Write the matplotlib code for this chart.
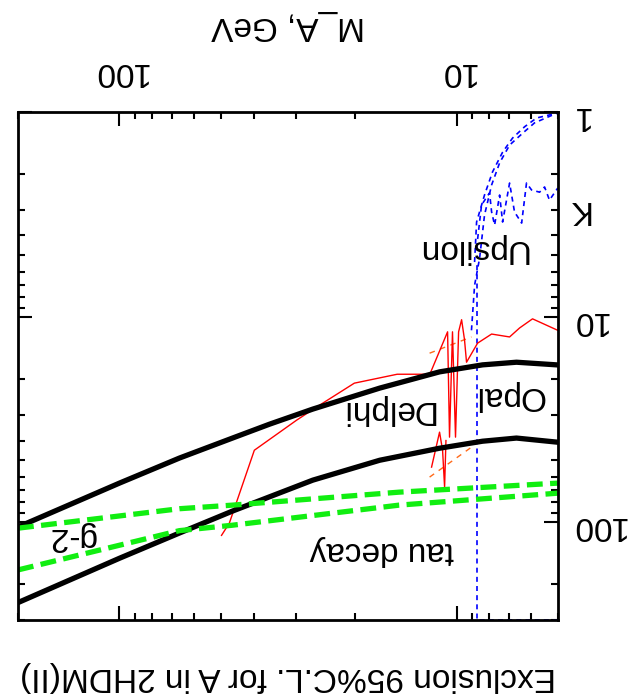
import matplotlib
matplotlib.use("Agg")
import matplotlib.pyplot as plt
from matplotlib.ticker import NullFormatter

plt.rcParams['font.family'] = ['Liberation Sans', 'DejaVu Sans']

# picture is drawn upside down (both axes inverted, all text turned 180 deg)

# black limit curves (M_A in GeV, tan beta)
black_up_m = [201, 100, 66.4, 46.2, 35.9, 26.7, 16.9, 11.23, 8.37, 6.64, 5.05]
black_up_t = [106, 64.5, 48.7, 38.9, 33.3, 28.1, 22.2, 18.5, 17.1, 16.6, 17.1]
black_lo_m = [198, 100, 66.4, 46.2, 26.7, 16.9, 11.23, 8.37, 6.64, 5.05]
black_lo_t = [245, 150, 113, 88.3, 62.4, 49.9, 43.6, 40.3, 38.9, 40.7]

# g-2 band (green dashed)
g2_up_m = [200, 66.4, 46.2, 14.8, 5.0]
g2_up_t = [107, 86, 82.6, 71.4, 64.5]
g2_lo_m = [200, 66.4, 46.2, 14.8, 5.0]
g2_lo_t = [171, 110, 103.5, 82.6, 72.2]

# Delphi / Opal red curve
red_m = [49.8, 47.2, 39.8, 29.8, 25.5, 20.1, 15.0, 12.9, 12.0, 10.63, 10.49, 10.28, 10.07,
         9.86, 9.66, 9.47, 9.34, 8.66, 7.87, 6.96, 6.50, 5.95, 5.01]
red_t = [116, 101, 44.6, 31.8, 26.9, 21.0, 19.0, 19.0, 19.0, 11.8, 38.5, 11.8, 38.5,
         11.8, 10.3, 12.9, 16.6, 13.4, 12.1, 12.5, 11.3, 10.2, 11.6]
red2_m = [11.86, 11.23, 11.0, 10.85, 10.75]
red2_t = [53.9, 36.4, 44.6, 67.5, 40]

# orange dashed bits
or_up_m = [12.02, 9.03]
or_up_t = [15.0, 12.5]
or_lo_m = [12.02, 9.03]
or_lo_t = [60.3, 43.1]

# Upsilon (blue dashed)
ups_v_m = [5.01, 8.72, 8.72]
ups_v_t = [300, 300, 5.4]
ups_a_m = [8.84, 8.72, 8.26, 7.82, 7.30, 6.82, 6.28, 5.79, 5.01]
ups_a_t = [5.39, 3.44, 2.54, 1.96, 1.57, 1.34, 1.18, 1.07, 1.01]
ups_b_m = [9.03, 8.84, 8.54, 8.26, 7.87, 7.45, 6.96, 6.37, 5.87, 5.37, 5.01]
ups_b_t = [11.6, 7.0, 5.15, 3.18, 2.27, 1.77, 1.45, 1.27, 1.13, 1.06, 1.01]
ups_c_m = [8.72, 8.43, 7.98, 7.87, 7.71, 7.45, 7.30, 6.96, 6.73, 6.41, 6.20, 5.99, 5.67, 5.48, 5.30, 5.01]
ups_c_t = [4.61, 2.84, 2.48, 3.07, 3.56, 2.54, 3.44, 2.22, 3.07, 3.48, 2.22, 2.40, 2.46, 2.32, 2.69, 2.35]

x_ticks = [10, 100]
x_labels = ['10', '100']
y_ticks = [1, 10, 100]
y_labels = ['1', '10', '100']

fig = plt.figure(figsize=(6.41, 6.99), dpi=100)
ax = fig.add_axes([18/641, 1-620/699, 540/641, 508/699])
ax.set_xscale('log')
ax.set_yscale('log')
ax.set_xlim(200, 5)
ax.set_ylim(300, 1)

blue_kw = dict(color='#0000ff', lw=1.2, dashes=(3, 2.5))
ax.plot(ups_v_m, ups_v_t, **blue_kw)
ax.plot(ups_a_m, ups_a_t, **blue_kw)
ax.plot(ups_b_m, ups_b_t, **blue_kw)
ax.plot(ups_c_m, ups_c_t, **blue_kw)

ax.plot(or_up_m, or_up_t, color='#ff6a1a', lw=1, dashes=(4, 4))
ax.plot(or_lo_m, or_lo_t, color='#ff6a1a', lw=1, dashes=(4, 4))

ax.plot(red_m, red_t, color='#ff0000', lw=1)
ax.plot(red2_m, red2_t, color='#ff0000', lw=1)

ax.plot(black_up_m, black_up_t, color='black', lw=3.8, solid_joinstyle='round')
ax.plot(black_lo_m, black_lo_t, color='black', lw=3.8, solid_joinstyle='round')

ax.plot(g2_up_m, g2_up_t, color='#11ee11', lw=3.8, dashes=(3, 1.4))
ax.plot(g2_lo_m, g2_lo_t, color='#11ee11', lw=3.8, dashes=(3, 1.4))

fs = 24
txt_kw = dict(rotation=180, ha='center', va='center', fontsize=fs)
ax.text(9.03, 4.61, 'Upsilon', **txt_kw)
ax.text(6.96, 24.0, 'Opal', **txt_kw)
ax.text(16.1, 28.1, 'Delphi', **txt_kw)
ax.text(16.7, 138, 'tau decay', **txt_kw)
ax.text(139, 117, 'g-2', **txt_kw)
ax.text(4.37, 3.0, 'K', clip_on=False, **txt_kw)

ax.set_xticks(x_ticks)
ax.set_xticklabels(x_labels)
ax.set_yticks(y_ticks)
ax.set_yticklabels(y_labels)
ax.xaxis.set_minor_formatter(NullFormatter())
ax.yaxis.set_minor_formatter(NullFormatter())

ax.tick_params(which='both', direction='in', top=True, bottom=True, left=True, right=True,
               labeltop=True, labelbottom=False, labelright=True, labelleft=False,
               labelsize=fs, labelrotation=180, width=1.5)
ax.tick_params(which='major', length=10)
ax.tick_params(which='minor', length=5)
ax.tick_params(axis='x', pad=18)
ax.tick_params(axis='y', pad=9)
for s in ax.spines.values():
    s.set_linewidth(2)

fig.text(288/641, 1-26/699, 'M_A, GeV', rotation=180, ha='center', va='center', fontsize=fs)
fig.text(288/641, 1-676/699, 'Exclusion 95%C.L. for A in 2HDM(II)', rotation=180,
         ha='center', va='center', fontsize=fs)

fig.savefig('out.png', dpi=100)
